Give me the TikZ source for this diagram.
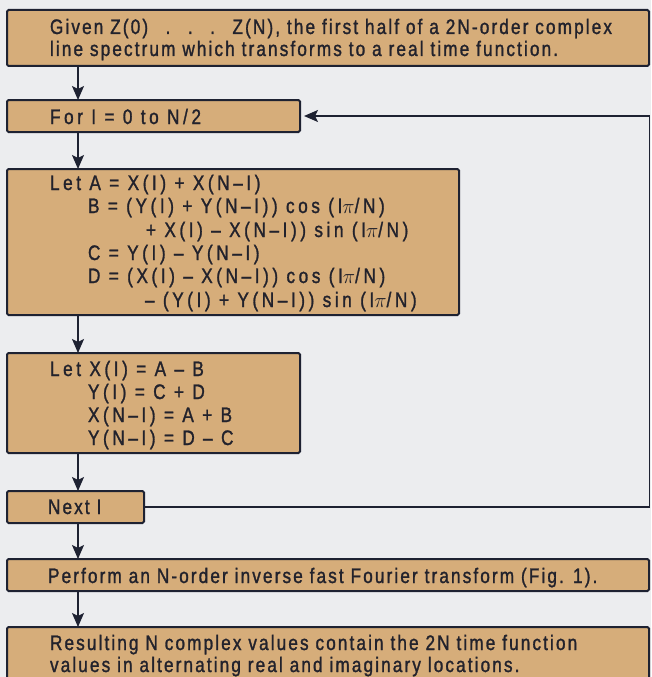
\documentclass[tikz,border=0pt]{standalone}
\usepackage{fontspec}
\setmainfont[FakeStretch=0.82,LetterSpace=10,FakeBold=1.3]{Liberation Sans}
\newfontfamily\eqfont[FakeStretch=0.82,LetterSpace=17,FakeBold=1.3]{Liberation Sans}
\usetikzlibrary{arrows.meta}
\definecolor{boxfill}{RGB}{214,173,122}
\definecolor{linec}{RGB}{30,34,50}
\definecolor{textc}{RGB}{34,34,44}
\definecolor{bgc}{RGB}{236,237,239}
\tikzset{
  flowbox/.style={draw=linec,line width=2pt,fill=boxfill,rounded corners=1.5pt,inner sep=0pt,outer sep=0pt},
  txt/.style={anchor=base west,inner sep=0pt,outer sep=0pt,text=textc,font=\fontsize{21}{23}\selectfont},
  eqtxt/.style={txt,font=\fontsize{21}{23}\eqfont},
  arr/.style={draw=linec,line width=1.6pt,-{Stealth[length=14pt,width=12pt,inset=3pt]}},
  loopline/.style={draw=linec,line width=1.4pt}
}
\newcommand{\dotgap}{\hspace{17.5pt}}
\begin{document}
\begin{tikzpicture}[x=1pt,y=-1pt]
\fill[bgc] (0,0) rectangle (651,677);
\useasboundingbox (0,0) rectangle (651,677);
\clip (0,0) rectangle (651,677);
% boxes
\node[flowbox,minimum width=642pt,minimum height=56pt] (b1) at (328,38) {};
\node[flowbox,minimum width=293pt,minimum height=32pt] (b2) at (153.5,116) {};
\node[flowbox,minimum width=452pt,minimum height=146pt] (b3) at (233,242) {};
\node[flowbox,minimum width=293pt,minimum height=100pt] (b4) at (153.5,403) {};
\node[flowbox,minimum width=137pt,minimum height=32pt] (b5) at (75.5,507) {};
\node[flowbox,minimum width=642pt,minimum height=32pt] (b6) at (328,575) {};
\node[flowbox,minimum width=642pt,minimum height=80pt] (b7) at (328,667) {};
% texts
\node[txt] (t1a) at (50,34) {Given Z(0)\dotgap.\dotgap.\dotgap.\dotgap Z(N), the first half of a 2N-order complex};
\node[txt] (t1b) at (50,56) {line spectrum which transforms to a real time function.};
\node[eqtxt] (t2) at (50,124) {For I = 0 to N/2};
\node[eqtxt] (t3a) at (50,190) {Let A = X(I) + X(N\textendash I)};
\node[eqtxt] (t3b) at (88,213) {B = (Y(I) + Y(N\textendash I)) cos (I$\pi$/N)};
\node[eqtxt] (t3c) at (146,237) {+ X(I) \textendash\ X(N\textendash I)) sin (I$\pi$/N)};
\node[eqtxt] (t3d) at (88,260) {C = Y(I) \textendash\ Y(N\textendash I)};
\node[eqtxt] (t3e) at (88,283) {D = (X(I) \textendash\ X(N\textendash I)) cos (I$\pi$/N)};
\node[eqtxt] (t3f) at (145,307) {\textendash\ (Y(I) + Y(N\textendash I)) sin (I$\pi$/N)};
\node[eqtxt] (t4a) at (50,376) {Let X(I) = A \textendash\ B};
\node[eqtxt] (t4b) at (88,399) {Y(I) = C + D};
\node[eqtxt] (t4c) at (88,422) {X(N\textendash I) = A + B};
\node[eqtxt] (t4d) at (88,445) {Y(N\textendash I) = D \textendash\ C};
\node[txt] (t5) at (48,514) {Next I};
\node[txt] (t6) at (48,583) {Perform an N-order inverse fast Fourier transform (Fig. 1).};
\node[txt] (t7a) at (50,650) {Resulting N complex values contain the 2N time function};
\node[txt] (t7b) at (50,672) {values in alternating real and imaginary locations.};
% arrows
\draw[arr] ([xshift=71pt]b1.south west) -- ([xshift=71pt]b2.north west);
\draw[arr] ([xshift=71pt]b2.south west) -- ([xshift=71pt]b3.north west);
\draw[arr] ([xshift=71pt]b3.south west) -- ([xshift=71pt]b4.north west);
\draw[arr] ([xshift=71pt]b4.south west) -- ([xshift=71pt]b5.north west);
\draw[arr] ([xshift=71pt]b5.south west) -- ([xshift=71pt]b6.north west);
\draw[arr] ([xshift=71pt]b6.south west) -- ([xshift=71pt]b7.north west);
% loop
\coordinate (rx) at (649.5,0);
\draw[loopline] (b5.east) -- (b5.east -| rx) -- (b2.east -| rx);
\draw[arr,line width=1.4pt,shorten >=4pt] (b2.east -| rx) -- (b2.east);
\end{tikzpicture}
\end{document}
